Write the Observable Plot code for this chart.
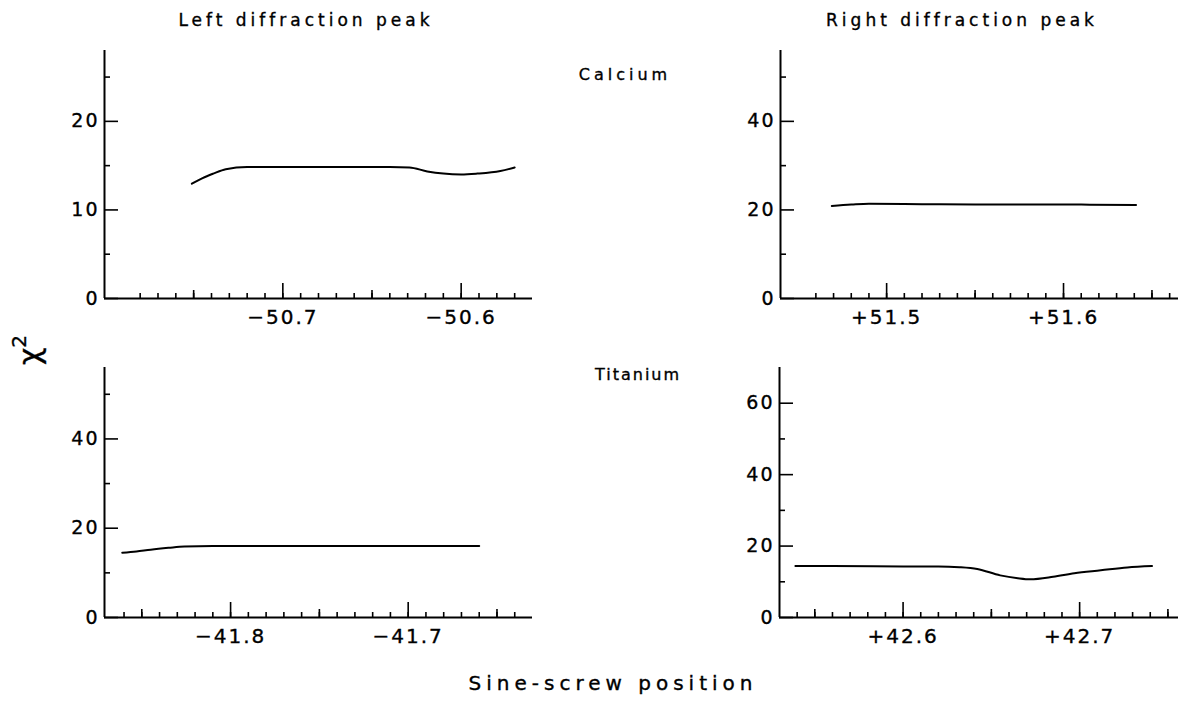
<!DOCTYPE html>
<html><head><meta charset="utf-8">
<script src="https://cdn.jsdelivr.net/npm/d3@7"></script>
<script src="https://cdn.jsdelivr.net/npm/@observablehq/plot@0.6"></script>
<style>
html,body{margin:0;padding:0;background:#fff;}
#root{position:relative;width:1178px;height:706px;overflow:hidden;font-family:"DejaVu Sans",sans-serif;color:#000;}
.lbl{position:absolute;white-space:nowrap;transform:translate(-50%,-50%);line-height:1;-webkit-text-stroke:0.35px #000;}
.panel{position:absolute;}
.panel svg{overflow:visible;}
.panel svg text{letter-spacing:2px;stroke:#000;stroke-width:0.35px;}
</style></head><body><div id="root"></div>
<script>
// ---- Calcium, left diffraction peak ----
const caLeftX = [-50.751, -50.745, -50.739, -50.732, -50.72, -50.70, -50.68, -50.66, -50.64, -50.629, -50.619, -50.61, -50.60, -50.591, -50.578, -50.57];
const caLeftY = [12.96, 13.6, 14.1, 14.6, 14.84, 14.85, 14.85, 14.85, 14.85, 14.8, 14.35, 14.1, 14.0, 14.1, 14.4, 14.8];
// ---- Calcium, right diffraction peak ----
const caRightX = [51.469, 51.48, 51.49, 51.52, 51.55, 51.58, 51.61, 51.641];
const caRightY = [20.9, 21.2, 21.4, 21.3, 21.2, 21.2, 21.2, 21.1];
// ---- Titanium, left diffraction peak ----
const tiLeftX = [-41.861, -41.853, -41.845, -41.835, -41.826, -41.81, -41.78, -41.75, -41.72, -41.69, -41.66];
const tiLeftY = [14.5, 14.8, 15.2, 15.6, 15.9, 16.0, 16.0, 16.0, 16.0, 16.0, 16.0];
// ---- Titanium, right diffraction peak ----
const tiRightX = [42.539, 42.56, 42.60, 42.62, 42.632, 42.642, 42.655, 42.665, 42.672, 42.685, 42.697, 42.712, 42.727, 42.741];
const tiRightY = [14.4, 14.4, 14.3, 14.3, 14.1, 13.6, 11.8, 11.0, 10.7, 11.4, 12.4, 13.2, 14.0, 14.4];

// axis domains and ticks
const caLeftDomain = [-50.80, -50.56], caLeftYDomain = [0, 28];
const caRightDomain = [51.44, 51.665], caRightYDomain = [0, 56];
const tiLeftDomain = [-41.871, -41.63], tiLeftYDomain = [0, 56];
const tiRightDomain = [42.53, 42.756], tiRightYDomain = [0, 70];

const caLeftMajor = [-50.7, -50.6], caLeftMid = [-50.75, -50.65], caLeftMinorRange = [-5078, -5057];
const caRightMajor = [51.5, 51.6], caRightMid = [51.55, 51.65], caRightMinorRange = [5146, 5166];
const tiLeftMajor = [-41.8, -41.7], tiLeftMid = [-41.85, -41.75, -41.65], tiLeftMinorRange = [-4186, -4164];
const tiRightMajor = [42.6, 42.7], tiRightMid = [42.55, 42.65, 42.75], tiRightMinorRange = [4254, 4275];

const caLeftYMajor = [0, 10, 20], caLeftYMinor = [5, 15, 25];
const caRightYMajor = [0, 20, 40], caRightYMinor = [10, 30, 50];
const tiLeftYMajor = [0, 20, 40], tiLeftYMinor = [10, 30, 50];
const tiRightYMajor = [0, 20, 40, 60], tiRightYMinor = [10, 30, 50];

const titles = ["Left diffraction peak", "Right diffraction peak"];
const elements = ["Calcium", "Titanium"];
const xLabel = "Sine-screw position";

const fmt = d => (d < 0 ? "\u2212" : "+") + Math.abs(d).toFixed(1);

function panel(o) {
  const data = o.xs.map((x, i) => ({x, y: o.ys[i]}));
  const x0 = o.xDomain[0];
  const minor = d3.range(o.minorRange[0], o.minorRange[1] + 1).map(v => v / 100);
  const st = {stroke: "#000", strokeWidth: 1.6};
  const svg = Plot.plot({
    width: o.width, height: o.height,
    marginLeft: o.mL, marginRight: o.mR, marginTop: o.mT, marginBottom: o.mB,
    x: {domain: o.xDomain, axis: null},
    y: {domain: o.yDomain, axis: null},
    style: {fontFamily: "DejaVu Sans, sans-serif", fontSize: "19px", color: "#000", background: "transparent", overflow: "visible"},
    marks: [
      Plot.ruleY([0], {stroke: "#000", strokeWidth: 2}),
      Plot.ruleX([x0], {stroke: "#000", strokeWidth: 2}),
      Plot.ruleX(minor, {x: d => d, y1: () => 0, y2: () => 0, insetBottom: 5, ...st}),
      Plot.ruleX(o.mid, {x: d => d, y1: () => 0, y2: () => 0, insetBottom: 8, ...st}),
      Plot.ruleX(o.major, {x: d => d, y1: () => 0, y2: () => 0, insetBottom: 15, ...st}),
      Plot.ruleY(o.yMinor, {y: d => d, x1: () => x0, x2: () => x0, insetLeft: 6, ...st}),
      Plot.ruleY(o.yMajor, {y: d => d, x1: () => x0, x2: () => x0, insetLeft: 14, ...st}),
      Plot.text(o.major, {x: d => d, y: () => 0, dy: 19, text: fmt, fontSize: 20, fill: "#000"}),
      Plot.text(o.yMajor, {x: () => x0, y: d => d, dx: -5, textAnchor: "end", text: d => String(d), fontSize: 19, fill: "#000"}),
      Plot.line(data, {x: "x", y: "y", curve: "monotone-x", stroke: "#000", strokeWidth: 2})
    ]
  });
  const div = document.createElement("div");
  div.className = "panel";
  div.style.left = o.left + "px";
  div.style.top = o.top + "px";
  div.appendChild(svg);
  return div;
}

const root = document.getElementById("root");
root.appendChild(panel({left: 0, top: 0, width: 560, height: 340, mL: 104, mR: 28, mT: 50, mB: 42,
  xDomain: caLeftDomain, yDomain: caLeftYDomain, xs: caLeftX, ys: caLeftY,
  major: caLeftMajor, mid: caLeftMid, minorRange: caLeftMinorRange, yMajor: caLeftYMajor, yMinor: caLeftYMinor}));
root.appendChild(panel({left: 600, top: 0, width: 578, height: 340, mL: 180, mR: 0, mT: 50, mB: 42,
  xDomain: caRightDomain, yDomain: caRightYDomain, xs: caRightX, ys: caRightY,
  major: caRightMajor, mid: caRightMid, minorRange: caRightMinorRange, yMajor: caRightYMajor, yMinor: caRightYMinor}));
root.appendChild(panel({left: 0, top: 340, width: 560, height: 350, mL: 104, mR: 28, mT: 27, mB: 73,
  xDomain: tiLeftDomain, yDomain: tiLeftYDomain, xs: tiLeftX, ys: tiLeftY,
  major: tiLeftMajor, mid: tiLeftMid, minorRange: tiLeftMinorRange, yMajor: tiLeftYMajor, yMinor: tiLeftYMinor}));
root.appendChild(panel({left: 600, top: 340, width: 578, height: 350, mL: 179, mR: 0, mT: 27, mB: 73,
  xDomain: tiRightDomain, yDomain: tiRightYDomain, xs: tiRightX, ys: tiRightY,
  major: tiRightMajor, mid: tiRightMid, minorRange: tiRightMinorRange, yMajor: tiRightYMajor, yMinor: tiRightYMinor}));

function label(text, x, y, size, spacing, extra) {
  const d = document.createElement("div");
  d.className = "lbl";
  d.textContent = text;
  d.style.left = x + "px";
  d.style.top = y + "px";
  d.style.fontSize = size + "px";
  d.style.letterSpacing = spacing + "px";
  if (extra) Object.assign(d.style, extra);
  root.appendChild(d);
  return d;
}
label(titles[0], 306, 20, 17, 4);
label(titles[1], 962, 20, 17, 4);
label(elements[0], 625, 75, 16, 4);
label(elements[1], 638, 375, 16, 2);
label(xLabel, 613, 683, 20, 5);
const chi = label("", 27, 350, 30, 0, {transform: "translate(-50%,-50%) rotate(-90deg)"});
chi.innerHTML = "\u03c7<sup style=\"font-size:20px;vertical-align:14px\">2</sup>";
</script>
</body></html>
